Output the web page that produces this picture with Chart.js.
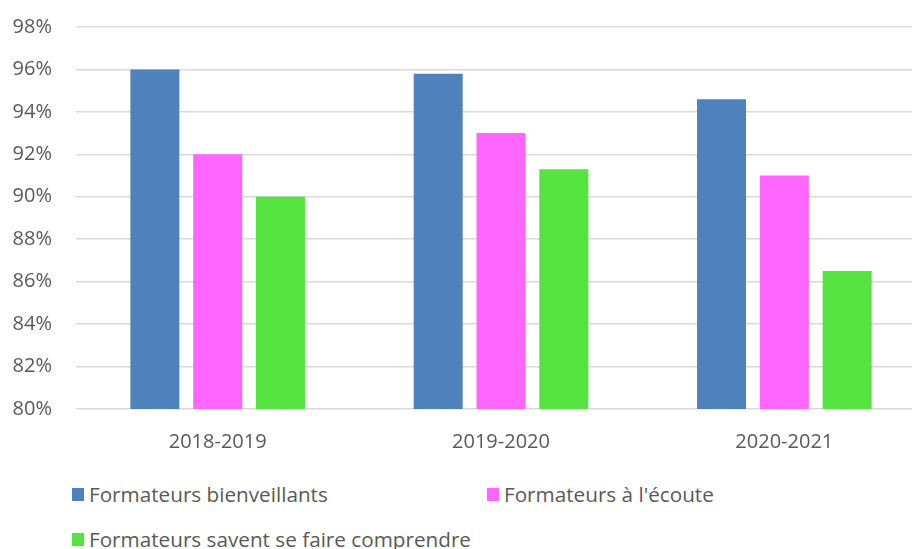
<!DOCTYPE html>
<html>
<head>
<meta charset="utf-8">
<script src="https://cdn.jsdelivr.net/npm/chart.js@4"></script>
<style>
    body { margin: 0; background: #fff; }
    #wrap { position: relative; width: 912px; height: 549px; overflow: hidden; }
    #chart { position: absolute; left: 0; top: 0; }
    .legend-item {
        position: absolute;
        display: flex;
        align-items: center;
        font-family: 'Open Sans', sans-serif;
        font-size: 20.7px;
        color: #595959;
        white-space: nowrap;
    }
    .legend-box { width: 12px; height: 13px; margin-right: 5px; }
</style>
</head>
<body>
<div id="wrap">
    <canvas id="chart" width="926" height="460"></canvas>
</div>
<script>
// Chart data
const categories = ['2018-2019', '2019-2020', '2020-2021'];
const seriesNames = ['Formateurs bienveillants', "Formateurs à l'écoute", 'Formateurs savent se faire comprendre'];
const bienveillants = [96, 95.8, 94.6];
const ecoute = [92, 93, 91];
const comprendre = [90, 91.3, 86.5];
const yMin = 80;
const yMax = 98;
const yStep = 2;

const colors = ['#4F81BD', '#FF66FF', '#55E340'];
const legendPos = [[72, 480], [487, 480], [72, 525]];

document.addEventListener('DOMContentLoaded', function() {
    const values = [bienveillants, ecoute, comprendre];
    const datasets = seriesNames.map((name, i) => ({
        label: name,
        data: values[i],
        backgroundColor: colors[i],
        borderWidth: 0,
        categoryPercentage: 0.665,
        barPercentage: 0.78
    }));

    // plot area runs a bit past the right edge of the picture, like the original
    const ctx = document.getElementById('chart').getContext('2d');
    new Chart(ctx, {
        type: 'bar',
        data: { labels: categories, datasets: datasets },
        options: {
            responsive: false,
            animation: false,
            layout: { padding: { top: 27, right: 0, left: 0, bottom: 0 } },
            plugins: {
                legend: { display: false },
                tooltip: { enabled: false }
            },
            scales: {
                x: {
                    grid: { display: false, drawTicks: false },
                    border: { display: false },
                    ticks: {
                        padding: 21,
                        color: '#595959',
                        font: { family: 'Open Sans', size: 20 }
                    },
                    afterFit: function(axis) { axis.height = 51; }
                },
                y: {
                    min: yMin,
                    max: yMax,
                    grid: { color: '#d9d9d9', lineWidth: 1.5, drawTicks: false },
                    border: { display: false },
                    ticks: {
                        stepSize: yStep,
                        padding: 24,
                        color: '#595959',
                        font: { family: 'Open Sans', size: 20 },
                        callback: v => v + '%'
                    },
                    afterFit: function(axis) {
                        axis.width = 76;
                        axis.paddingTop = 0;
                        axis.paddingBottom = 0;
                    }
                }
            }
        }
    });

    // Legend laid out in two columns like the original
    const wrap = document.getElementById('wrap');
    seriesNames.forEach((name, i) => {
        const item = document.createElement('div');
        item.className = 'legend-item';
        item.style.left = legendPos[i][0] + 'px';
        item.style.top = legendPos[i][1] + 'px';
        item.innerHTML = '<span class="legend-box" style="background:' + colors[i] + '"></span>' + name;
        wrap.appendChild(item);
    });
});
</script>
</body>
</html>
